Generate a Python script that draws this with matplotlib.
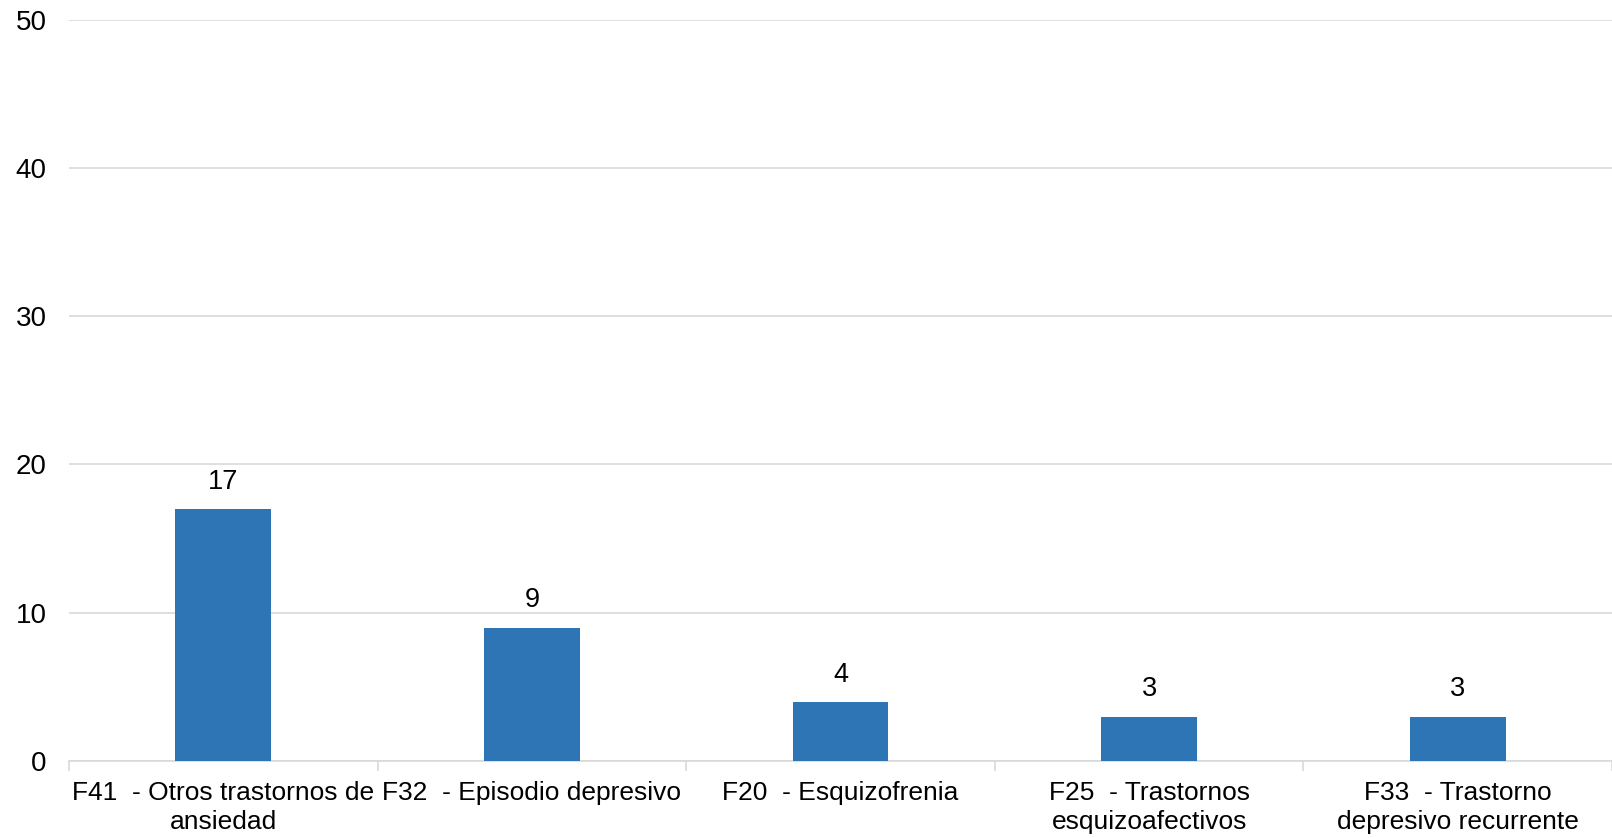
import matplotlib.pyplot as plt
from matplotlib.ticker import FixedLocator, NullFormatter, FixedFormatter

# datos
categorias = [
    "F41  - Otros trastornos de\nansiedad",
    "F32  - Episodio depresivo",
    "F20  - Esquizofrenia",
    "F25  - Trastornos\nesquizoafectivos",
    "F33  - Trastorno\ndepresivo recurrente",
]
valores = [17, 9, 4, 3, 3]
yticks = [0, 10, 20, 30, 40, 50]

plt.rcParams['font.family'] = ['Liberation Sans', 'DejaVu Sans']

fig = plt.figure(figsize=(16.12, 8.38), dpi=100)
ax = fig.add_axes([69 / 1612, 1 - 761 / 838, 1 - 69 / 1612, (761 - 19.5) / 838])

x = list(range(len(categorias)))
bars = ax.bar(x, valores, width=0.31, color='#2e75b6', zorder=3)
for b, v in zip(bars, valores):
    ax.text(b.get_x() + b.get_width() / 2, v + 0.95, str(v), ha='center', va='bottom',
            fontsize=19.5, color='#000000')

ax.set_xlim(-0.5, len(categorias) - 0.5)
ax.set_ylim(0, 50)
ax.set_yticks(yticks)
ax.yaxis.grid(True, color='#d9d9d9', linewidth=1.2, zorder=0)
ax.tick_params(axis='y', length=0, labelsize=20, pad=16)

# ticks en los limites de categoria, etiquetas en el centro
ax.xaxis.set_major_locator(FixedLocator([i - 0.5 for i in range(len(categorias) + 1)]))
ax.xaxis.set_major_formatter(NullFormatter())
ax.xaxis.set_minor_locator(FixedLocator(x))
ax.xaxis.set_minor_formatter(FixedFormatter(categorias))
ax.tick_params(axis='x', which='major', length=7, color='#d9d9d9', width=1.2)
ax.tick_params(axis='x', which='minor', length=0, labelsize=19, pad=14.5)
for t in ax.xaxis.get_minorticklabels():
    t.set_linespacing(1.28)

for s in ['top', 'right', 'left']:
    ax.spines[s].set_visible(False)
ax.spines['bottom'].set_color('#d9d9d9')
ax.spines['bottom'].set_linewidth(1.2)

fig.savefig('out.png', dpi=100)
